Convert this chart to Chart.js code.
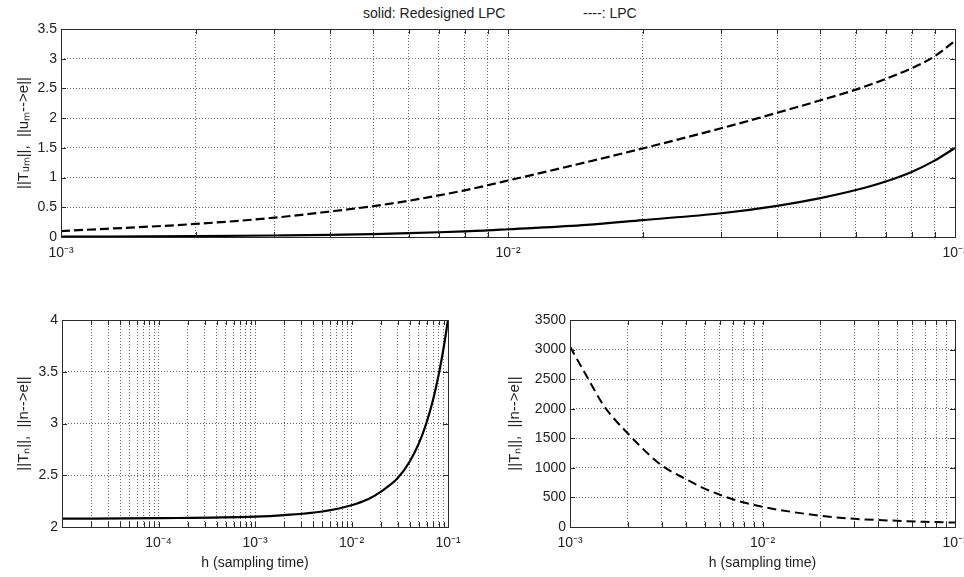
<!DOCTYPE html>
<html>
<head>
<meta charset="utf-8">
<script src="https://cdn.jsdelivr.net/npm/chart.js@4.4.1/dist/chart.umd.min.js"></script>
<style>
    body { margin: 0; background: #fff; }
    #page { position: relative; width: 964px; height: 577px; overflow: hidden; font-family: "Liberation Sans", Arial, sans-serif; }
    .box { position: absolute; }
    .lbl { position: absolute; font-size: 14px; color: #222; white-space: pre; line-height: 16px; }
</style>
</head>
<body>
<div id="page">
    <div class="lbl" style="left:363px; top:5px">solid: Redesigned LPC</div>
    <div class="lbl" style="left:583px; top:5px">----: LPC</div>
    <div class="box" style="left:0; top:0; width:964px; height:272px"><canvas id="top"></canvas></div>
    <div class="box" style="left:0; top:300px; width:480px; height:277px"><canvas id="left"></canvas></div>
    <div class="box" style="left:480px; top:300px; width:484px; height:277px"><canvas id="right"></canvas></div>
</div>
<script>
// top panel: ||T_um||, ||u_m-->e|| against h
var hTop = [0.001, 0.002, 0.003, 0.004, 0.005, 0.006, 0.007, 0.008, 0.009, 0.01,
            0.015, 0.02, 0.03, 0.04, 0.05, 0.06, 0.07, 0.08, 0.09, 0.1];
var redesignedTop = [0.005, 0.015, 0.025, 0.035, 0.05, 0.065, 0.08, 0.095, 0.11, 0.13,
                     0.205, 0.285, 0.4, 0.525, 0.655, 0.79, 0.935, 1.095, 1.285, 1.5];
var lpcTop = [0.1, 0.22, 0.325, 0.43, 0.52, 0.61, 0.7, 0.785, 0.87, 0.95,
              1.26, 1.49, 1.83, 2.09, 2.3, 2.48, 2.66, 2.84, 3.04, 3.3];

// bottom left: ||T_n||, ||n-->e||, redesigned LPC
var hLeft = [0.00001, 0.0001, 0.001, 0.002, 0.005, 0.01, 0.015, 0.02, 0.03,
             0.04, 0.05, 0.06, 0.07, 0.08, 0.09, 0.1];
var redesignedLeft = [2.08, 2.085, 2.1, 2.115, 2.15, 2.21, 2.27, 2.34, 2.47,
                      2.63, 2.81, 3.01, 3.23, 3.47, 3.73, 4.0];

// bottom right: ||T_n||, ||n-->e||, LPC
var hRight = [0.001, 0.00125, 0.0015, 0.002, 0.003, 0.004, 0.005, 0.006, 0.007,
              0.008, 0.009, 0.01, 0.02, 0.03, 0.05, 0.07, 0.1];
var lpcRight = [3050, 2490, 2050, 1580, 1040, 810, 650, 545, 470,
                415, 375, 340, 190, 138, 105, 88, 75];

// tick labels (powers of ten)
var decades = [0.00001, 0.0001, 0.001, 0.01, 0.1];
var decadeLabels = ['', '10\u207B\u2074', '10\u207B\u00B3', '10\u207B\u00B2', '10\u207B\u00B9'];

var yTitleTop = '||T\u1D64\u2098||,  ||u\u2098-->e||';
var yTitleBottom = '||T\u2099||,  ||n-->e||';
var xTitle = 'h (sampling time)';

Chart.defaults.font.family = '"Liberation Sans", Arial, sans-serif';
Chart.defaults.font.size = 14;
Chart.defaults.color = '#222';
Chart.defaults.animation = false;

function points(xs, ys) {
    return xs.map(function(x, i) { return {x: x, y: ys[i]}; });
}

// grid positions 1..9 x 10^e between two exponents
function logGrid(fromExp, toExp) {
    var out = [];
    for (var e = fromExp; e < toExp; e++)
        for (var m = 1; m < 10; m++)
            out.push(m * Math.pow(10, e));
    out.push(Math.pow(10, toExp));
    return out;
}

function decadeLabel(value) {
    for (var i = 0; i < decades.length; i++)
        if (Math.abs(Math.log10(value) - Math.log10(decades[i])) < 1e-6)
            return decadeLabels[i];
    return '';
}

// box round the axes with inward ticks, as matlab draws it
var frame = {
    id: 'frame',
    afterDraw: function(chart) {
        var ctx = chart.ctx, a = chart.chartArea,
            sx = chart.scales.x, sy = chart.scales.y;
        ctx.save();
        ctx.strokeStyle = '#2a2a2a';
        ctx.lineWidth = 1;
        ctx.beginPath();
        sx.ticks.forEach(function(t) {
            var px = Math.round(sx.getPixelForValue(t.value)) + 0.5;
            ctx.moveTo(px, a.bottom); ctx.lineTo(px, a.bottom - 5);
            ctx.moveTo(px, a.top); ctx.lineTo(px, a.top + 5);
        });
        sy.ticks.forEach(function(t) {
            var py = Math.round(sy.getPixelForValue(t.value)) + 0.5;
            ctx.moveTo(a.left, py); ctx.lineTo(a.left + 5, py);
            ctx.moveTo(a.right, py); ctx.lineTo(a.right - 5, py);
        });
        ctx.stroke();
        ctx.strokeRect(Math.round(a.left) + 0.5, Math.round(a.top) + 0.5,
                       Math.round(a.right - a.left), Math.round(a.bottom - a.top));
        ctx.restore();
    }
};

function makeChart(id, cfg) {
    var grid = {color: 'rgba(0,0,0,0.6)', lineWidth: 1, drawTicks: false};
    var border = {display: false, dash: [1, 2]};
    var xScale = {
        type: 'logarithmic',
        min: cfg.xMin,
        max: cfg.xMax,
        grid: grid,
        border: border,
        afterBuildTicks: function(s) {
            s.ticks = cfg.xGrid.map(function(v) { return {value: v}; });
        },
        ticks: {
            autoSkip: false,
            maxRotation: 0,
            padding: 8,
            callback: decadeLabel
        },
        afterFit: function(s) {
            s.height = cfg.xHeight;
            s.paddingLeft = 0;
            s.paddingRight = 0;
        }
    };
    if (cfg.xTitle)
        xScale.title = {display: true, text: cfg.xTitle, padding: {top: 0, bottom: 5}};

    return new Chart(document.getElementById(id).getContext('2d'), {
        type: 'line',
        data: {datasets: cfg.datasets},
        options: {
            responsive: true,
            maintainAspectRatio: false,
            devicePixelRatio: 1,
            layout: {padding: cfg.padding},
            plugins: {legend: {display: false}, tooltip: {enabled: false}},
            elements: {point: {radius: 0}, line: {cubicInterpolationMode: 'monotone'}},
            scales: {
                x: xScale,
                y: {
                    type: 'linear',
                    min: cfg.yMin,
                    max: cfg.yMax,
                    grid: grid,
                    border: border,
                    ticks: {
                        stepSize: cfg.yStep,
                        padding: 4,
                        callback: function(v) { return String(v); }
                    },
                    title: {display: true, text: cfg.yTitle, font: {size: 15},
                            padding: {top: cfg.yTitlePad, bottom: 0}},
                    afterFit: function(s) {
                        s.width = cfg.yWidth;
                        s.paddingTop = 0;
                        s.paddingBottom = 0;
                    }
                }
            }
        },
        plugins: [frame]
    });
}

makeChart('top', {
    xMin: 0.001, xMax: 0.1, xGrid: logGrid(-3, -1),
    yMin: 0, yMax: 3.5, yStep: 0.5, yTitle: yTitleTop, yTitlePad: 15,
    yWidth: 61, xHeight: 35,
    padding: {top: 29, right: 9, bottom: 0, left: 0},
    datasets: [
        {label: 'Redesigned LPC', data: points(hTop, redesignedTop),
         borderColor: '#000', borderWidth: 2.2},
        {label: 'LPC', data: points(hTop, lpcTop),
         borderColor: '#000', borderWidth: 2.2, borderDash: [9, 4]}
    ]
});

makeChart('left', {
    xMin: 0.00001, xMax: 0.1, xGrid: logGrid(-5, -1),
    xTitle: xTitle,
    yMin: 2, yMax: 4, yStep: 0.5, yTitle: yTitleBottom, yTitlePad: 15,
    yWidth: 62, xHeight: 50,
    padding: {top: 20, right: 32, bottom: 0, left: 0},
    datasets: [
        {label: 'Redesigned LPC', data: points(hLeft, redesignedLeft),
         borderColor: '#000', borderWidth: 2.2}
    ]
});

makeChart('right', {
    xMin: 0.001, xMax: 0.1, xGrid: logGrid(-3, -1),
    xTitle: xTitle,
    yMin: 0, yMax: 3500, yStep: 500, yTitle: yTitleBottom, yTitlePad: 26,
    yWidth: 90, xHeight: 50,
    padding: {top: 20, right: 9, bottom: 0, left: 0},
    datasets: [
        {label: 'LPC', data: points(hRight, lpcRight),
         borderColor: '#000', borderWidth: 2, borderDash: [9, 5]}
    ]
});
</script>
</body>
</html>
